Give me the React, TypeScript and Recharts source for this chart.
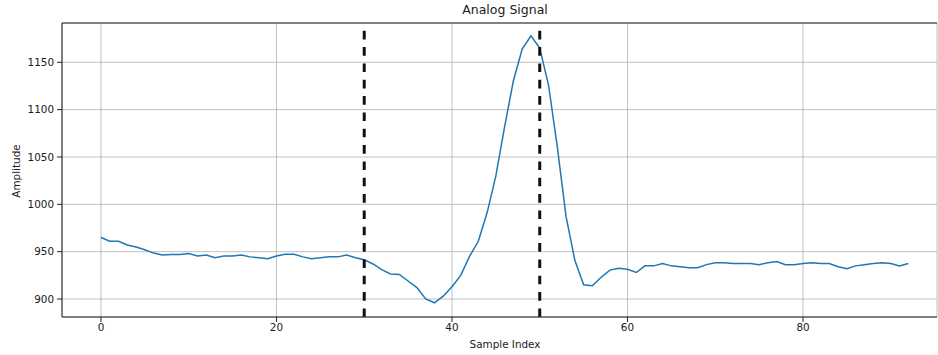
import React from 'react'
import { LineChart, Line, XAxis, YAxis, CartesianGrid, ReferenceLine } from 'recharts'

// amplitude per sample index 0..92
const amplitude = [
  965, 961, 961, 957, 955, 952, 948.5, 946.5, 947, 947,
  948, 945.5, 946.5, 943.5, 945.5, 945.5, 946.5, 944.5, 943.5, 942.5,
  945.5, 947.3, 947.3, 944.5, 942.5, 943.5, 944.5, 944.5, 946.5, 943.5,
  941.5, 937, 931, 926.5, 926, 919, 912, 900, 896, 903,
  913, 925, 945, 961, 991, 1030, 1082, 1130.5, 1164, 1178,
  1165, 1126, 1061, 987, 941, 915, 914, 923, 930.5, 932.5,
  931.5, 928, 935, 935, 937.4, 935, 934, 933, 933, 936.3,
  938.4, 938.4, 937.4, 937.4, 937.4, 936.3, 938.4, 939.5, 936.3, 936.3,
  937.4, 938.4, 937.4, 937.4, 934, 932, 935, 936.3, 937.4, 938.4,
  937.4, 935, 937.4,
]
const markers = [30, 50]
const xTicks = [0, 20, 40, 60, 80]
const yTicks = [900, 950, 1000, 1050, 1100, 1150]

const data = amplitude.map((v, i) => ({ idx: i, amp: v }))

const FONT = '"DejaVu Sans", sans-serif'
const tickStyle = { fontSize: 10.4, fill: '#1a1a1a', fontFamily: FONT }

export default function App() {
  return (
    <div style={{ position: 'absolute', left: 0, top: 0, width: 938, height: 355 }}>
      <div
        style={{
          position: 'absolute', left: 305, width: 400, top: 2, textAlign: 'center',
          fontFamily: FONT, fontSize: 12.5, color: '#1a1a1a',
        }}
      >
        Analog Signal
      </div>
      <LineChart
        width={938}
        height={355}
        data={data}
        margin={{ top: 23, right: 1, left: 0, bottom: 0 }}
      >
        <CartesianGrid stroke="#b0b0b0" strokeWidth={0.8} />
        <XAxis
          dataKey="idx"
          type="number"
          domain={[-4.44, 95.27]}
          allowDataOverflow
          ticks={xTicks}
          height={38}
          tickSize={5}
          stroke="#222"
          tick={tickStyle}
          label={{
            content: () => (
              <text x={505} y={348} textAnchor="middle" fontSize={10.4} fontFamily={FONT} fill="#1a1a1a">
                Sample Index
              </text>
            ),
          }}
        />
        <YAxis
          type="number"
          domain={[881, 1191.5]}
          allowDataOverflow
          ticks={yTicks}
          width={62}
          tickSize={5}
          tickMargin={3}
          stroke="#222"
          tick={tickStyle}
          label={{
            content: () => (
              <text
                x={20}
                y={171}
                textAnchor="middle"
                transform="rotate(-90 20 171)"
                fontSize={10.4}
                fontFamily={FONT}
                fill="#1a1a1a"
              >
                Amplitude
              </text>
            ),
          }}
        />
        <ReferenceLine y={1191.5} stroke="#222" strokeWidth={1} />
        <Line
          dataKey="amp"
          stroke="#1f77b4"
          strokeWidth={1.5}
          dot={false}
          isAnimationActive={false}
        />
        {markers.map((m) => (
          <ReferenceLine key={m} x={m} stroke="#111" strokeWidth={3} strokeDasharray="8.6 7.73" />
        ))}
      </LineChart>
    </div>
  )
}
